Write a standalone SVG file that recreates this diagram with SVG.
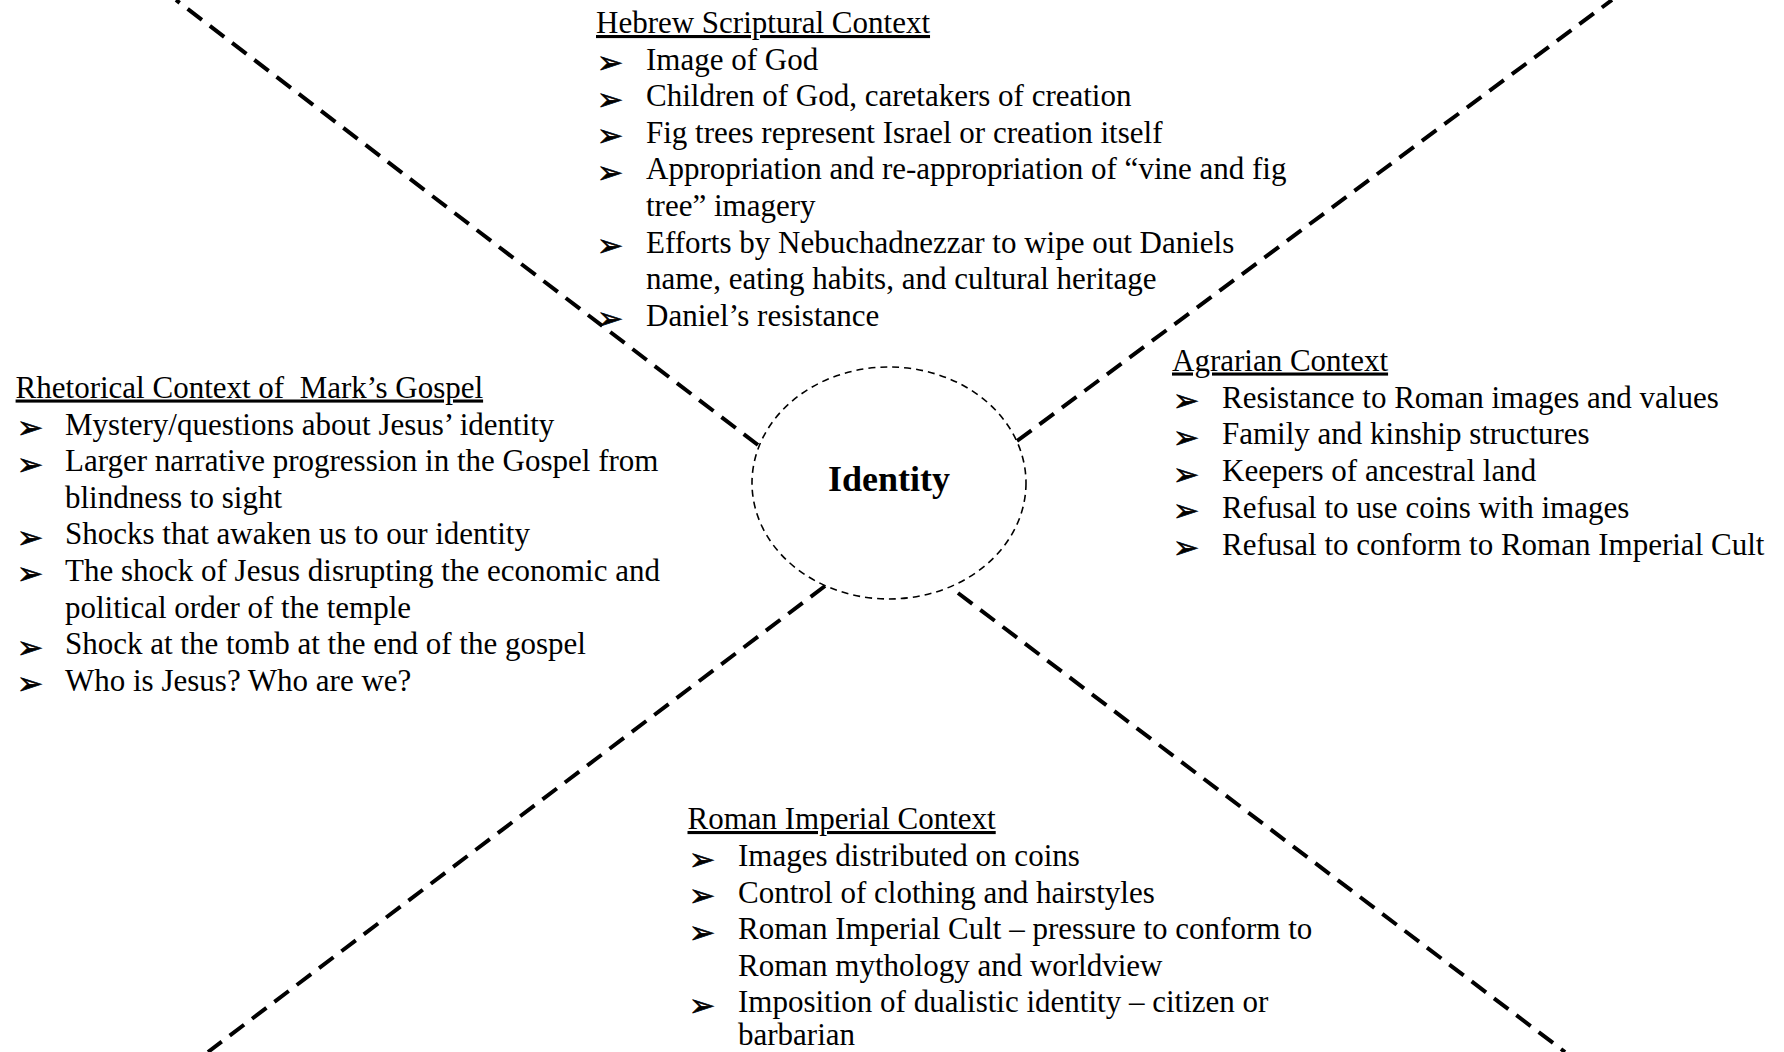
<svg xmlns="http://www.w3.org/2000/svg" width="1784" height="1052" viewBox="0 0 1784 1052">
  <style>
    .t { font-family: "Liberation Serif", "Times New Roman", serif; font-size: 31px; fill: #000; }
    .h { font-family: "Liberation Serif", "Times New Roman", serif; font-size: 31px; fill: #000; text-decoration: underline; text-decoration-thickness: 2px; white-space: pre; }
    .b { font-family: "DejaVu Sans", sans-serif; font-size: 31px; fill: #000; stroke: #000; stroke-width: 0.7; }
    .spoke { stroke: #000; stroke-width: 4; stroke-dasharray: 18 10; fill: none; }
    .hub { stroke: #000; stroke-width: 1.6; stroke-dasharray: 7 5; fill: #fff; }
    .title { font-family: "Liberation Serif", "Times New Roman", serif; font-size: 36px; font-weight: bold; fill: #000; }
  </style>

  <rect width="1784" height="1052" fill="#fff"/>

  <!-- dashed spokes radiating from the central ellipse -->
  <g id="connectors">
    <line class="spoke" x1="758" y1="445" x2="176" y2="0"/>
    <line class="spoke" x1="1017" y1="441" x2="1612" y2="0"/>
    <line class="spoke" x1="825" y1="586" x2="208" y2="1052"/>
    <line class="spoke" x1="958" y1="593" x2="1565" y2="1052"/>
  </g>

  <!-- central hub -->
  <g id="identity">
    <ellipse class="hub" cx="889" cy="483" rx="137" ry="116"/>
    <text class="title" x="889" y="491" text-anchor="middle">Identity</text>
  </g>

  <!-- top block -->
  <g id="hebrew" transform="translate(0 2.5)">
    <text class="h" x="596" y="30.5">Hebrew Scriptural Context</text>
    <text class="b" x="597" y="70.5">➢</text>
    <text class="t" x="646" y="67">Image of God</text>
    <text class="b" x="597" y="107.1">➢</text>
    <text class="t" x="646" y="103.6">Children of God, caretakers of creation</text>
    <text class="b" x="597" y="143.7">➢</text>
    <text class="t" x="646" y="140.2">Fig trees represent Israel or creation itself</text>
    <text class="b" x="597" y="180.3">➢</text>
    <text class="t" x="646" y="176.8">Appropriation and re-appropriation of “vine and fig</text>
    <text class="t" x="646" y="213.4">tree” imagery</text>
    <text class="b" x="597" y="253.5">➢</text>
    <text class="t" x="646" y="250">Efforts by Nebuchadnezzar to wipe out Daniels</text>
    <text class="t" x="646" y="286.6">name, eating habits, and cultural heritage</text>
    <text class="b" x="597" y="326.7">➢</text>
    <text class="t" x="646" y="323.2">Daniel’s resistance</text>
  </g>

  <!-- left block -->
  <g id="rhetorical" transform="translate(0 2.5)">
    <text class="h" x="15.6" y="395">Rhetorical Context of  Mark’s Gospel</text>
    <text class="b" x="17" y="435.5">➢</text>
    <text class="t" x="65" y="432">Mystery/questions about Jesus’ identity</text>
    <text class="b" x="17" y="472.1">➢</text>
    <text class="t" x="65" y="468.6">Larger narrative progression in the Gospel from</text>
    <text class="t" x="65" y="505.2">blindness to sight</text>
    <text class="b" x="17" y="545.3">➢</text>
    <text class="t" x="65" y="541.8">Shocks that awaken us to our identity</text>
    <text class="b" x="17" y="581.9">➢</text>
    <text class="t" x="65" y="578.4">The shock of Jesus disrupting the economic and</text>
    <text class="t" x="65" y="615">political order of the temple</text>
    <text class="b" x="17" y="655.1">➢</text>
    <text class="t" x="65" y="651.6">Shock at the tomb at the end of the gospel</text>
    <text class="b" x="17" y="691.7">➢</text>
    <text class="t" x="65" y="688.2">Who is Jesus? Who are we?</text>
  </g>

  <!-- right block -->
  <g id="agrarian" transform="translate(0 2.5)">
    <text class="h" x="1172" y="368">Agrarian Context</text>
    <text class="b" x="1173" y="408.5">➢</text>
    <text class="t" x="1222" y="405">Resistance to Roman images and values</text>
    <text class="b" x="1173" y="445.3">➢</text>
    <text class="t" x="1222" y="441.8">Family and kinship structures</text>
    <text class="b" x="1173" y="482.1">➢</text>
    <text class="t" x="1222" y="478.6">Keepers of ancestral land</text>
    <text class="b" x="1173" y="518.9">➢</text>
    <text class="t" x="1222" y="515.4">Refusal to use coins with images</text>
    <text class="b" x="1173" y="555.7">➢</text>
    <text class="t" x="1222" y="552.2">Refusal to conform to Roman Imperial Cult</text>
  </g>

  <!-- bottom block -->
  <g id="roman" transform="translate(0 2)">
    <text class="h" x="687.5" y="827">Roman Imperial Context</text>
    <text class="b" x="689" y="867.5">➢</text>
    <text class="t" x="738" y="864">Images distributed on coins</text>
    <text class="b" x="689" y="904.1">➢</text>
    <text class="t" x="738" y="900.6">Control of clothing and hairstyles</text>
    <text class="b" x="689" y="940.7">➢</text>
    <text class="t" x="738" y="937.2">Roman Imperial Cult – pressure to conform to</text>
    <text class="t" x="738" y="973.8">Roman mythology and worldview</text>
    <text class="b" x="689" y="1013.9">➢</text>
    <text class="t" x="738" y="1010.4">Imposition of dualistic identity – citizen or</text>
    <text class="t" x="738" y="1043">barbarian</text>
  </g>
</svg>
